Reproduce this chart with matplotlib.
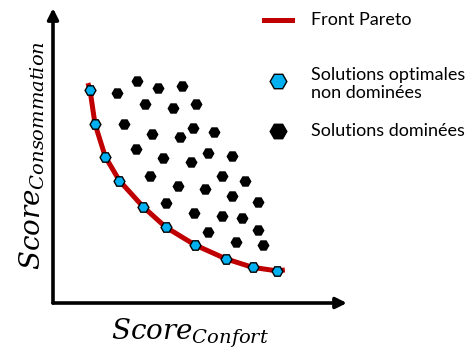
import matplotlib.pyplot as plt
from matplotlib.lines import Line2D

plt.rcParams['font.family'] = ['Lato', 'DejaVu Sans']
plt.rcParams['mathtext.fontset'] = 'dejavuserif'

# Pareto front (arbitrary 0-10 units)
front_x = [1.19, 1.26, 1.43, 1.78, 2.26, 3.07, 3.84, 4.83, 5.88, 6.79, 7.62, 7.89]
front_y = [7.46, 7.22, 6.07, 4.96, 4.15, 3.26, 2.57, 1.97, 1.50, 1.21, 1.09, 1.12]

# non-dominated solutions (on the front)
opt_x = [1.26, 1.43, 1.78, 2.26, 3.07, 3.84, 4.83, 5.88, 6.79, 7.62]
opt_y = [7.22, 6.07, 4.96, 4.15, 3.26, 2.57, 1.97, 1.50, 1.21, 1.09]

# dominated solutions
dom_x = [2.85, 3.56, 4.39, 2.19, 3.14, 4.08, 4.85, 2.41, 3.37, 4.31, 4.77,
         5.49, 2.81, 3.76, 4.69, 5.26, 6.10, 3.31, 4.25, 5.18, 5.74, 6.52,
         3.84, 6.10, 6.97, 4.81, 5.74, 6.44, 6.98, 5.28, 6.22, 7.14]
dom_y = [7.53, 7.28, 7.36, 7.11, 6.76, 6.63, 6.75, 6.07, 5.73, 5.62, 5.92,
         5.79, 5.24, 4.92, 4.79, 5.08, 4.97, 4.32, 3.98, 3.85, 4.32, 4.15,
         3.40, 3.62, 3.41, 3.06, 2.95, 2.88, 2.47, 2.40, 2.07, 1.96]

red = '#C00000'
blue = '#00B0F0'

fig = plt.figure(figsize=(4.74, 3.6), dpi=100)
ax = fig.add_axes([0.1118, 0.1583, 0.620, 0.819])
ax.set_xlim(0, 10)
ax.set_ylim(0, 10)

ax.plot(front_x, front_y, color=red, lw=3.6, solid_joinstyle='round',
        solid_capstyle='butt', zorder=2)
ax.plot(dom_x, dom_y, 'H', color='black', ms=7.5, ls='none', zorder=3)
ax.plot(opt_x, opt_y, 'H', mfc=blue, mec='black', mew=1, ms=7.8,
        ls='none', zorder=4)

# axes drawn as arrows
for xy in [(1, 0), (0, 1)]:
    ax.annotate('', xy=xy, xytext=(0, 0), xycoords='axes fraction',
                arrowprops=dict(arrowstyle='-|>', lw=2.6, color='black',
                                mutation_scale=16, shrinkA=0, shrinkB=0))
for s in ax.spines.values():
    s.set_visible(False)
ax.set_xticks([])
ax.set_yticks([])

fig.text(0.40, 0.075, r'$Score_{Confort}$', fontsize=20, ha='center', va='center')
fig.text(0.068, 0.569, r'$Score_{Consommation}$', fontsize=20, ha='center',
         va='center', rotation=90)

# legend, laid out by hand
fig.add_artist(Line2D([0.557, 0.616], [0.944, 0.944], color=red, lw=3.6,
                      transform=fig.transFigure))
fig.add_artist(Line2D([0.5865], [0.775], marker='H', mfc=blue, mec='black',
                      mew=1, ms=12, ls='none', transform=fig.transFigure))
fig.add_artist(Line2D([0.5865], [0.636], marker='H', color='black',
                      ms=12, ls='none', transform=fig.transFigure))
fig.text(0.656, 0.944, 'Front Pareto', fontsize=13, va='center')
fig.text(0.656, 0.767, 'Solutions optimales\nnon dominées', fontsize=13,
         va='center', linespacing=1.1)
fig.text(0.656, 0.636, 'Solutions dominées', fontsize=13, va='center')

fig.savefig('out.png', dpi=100)
